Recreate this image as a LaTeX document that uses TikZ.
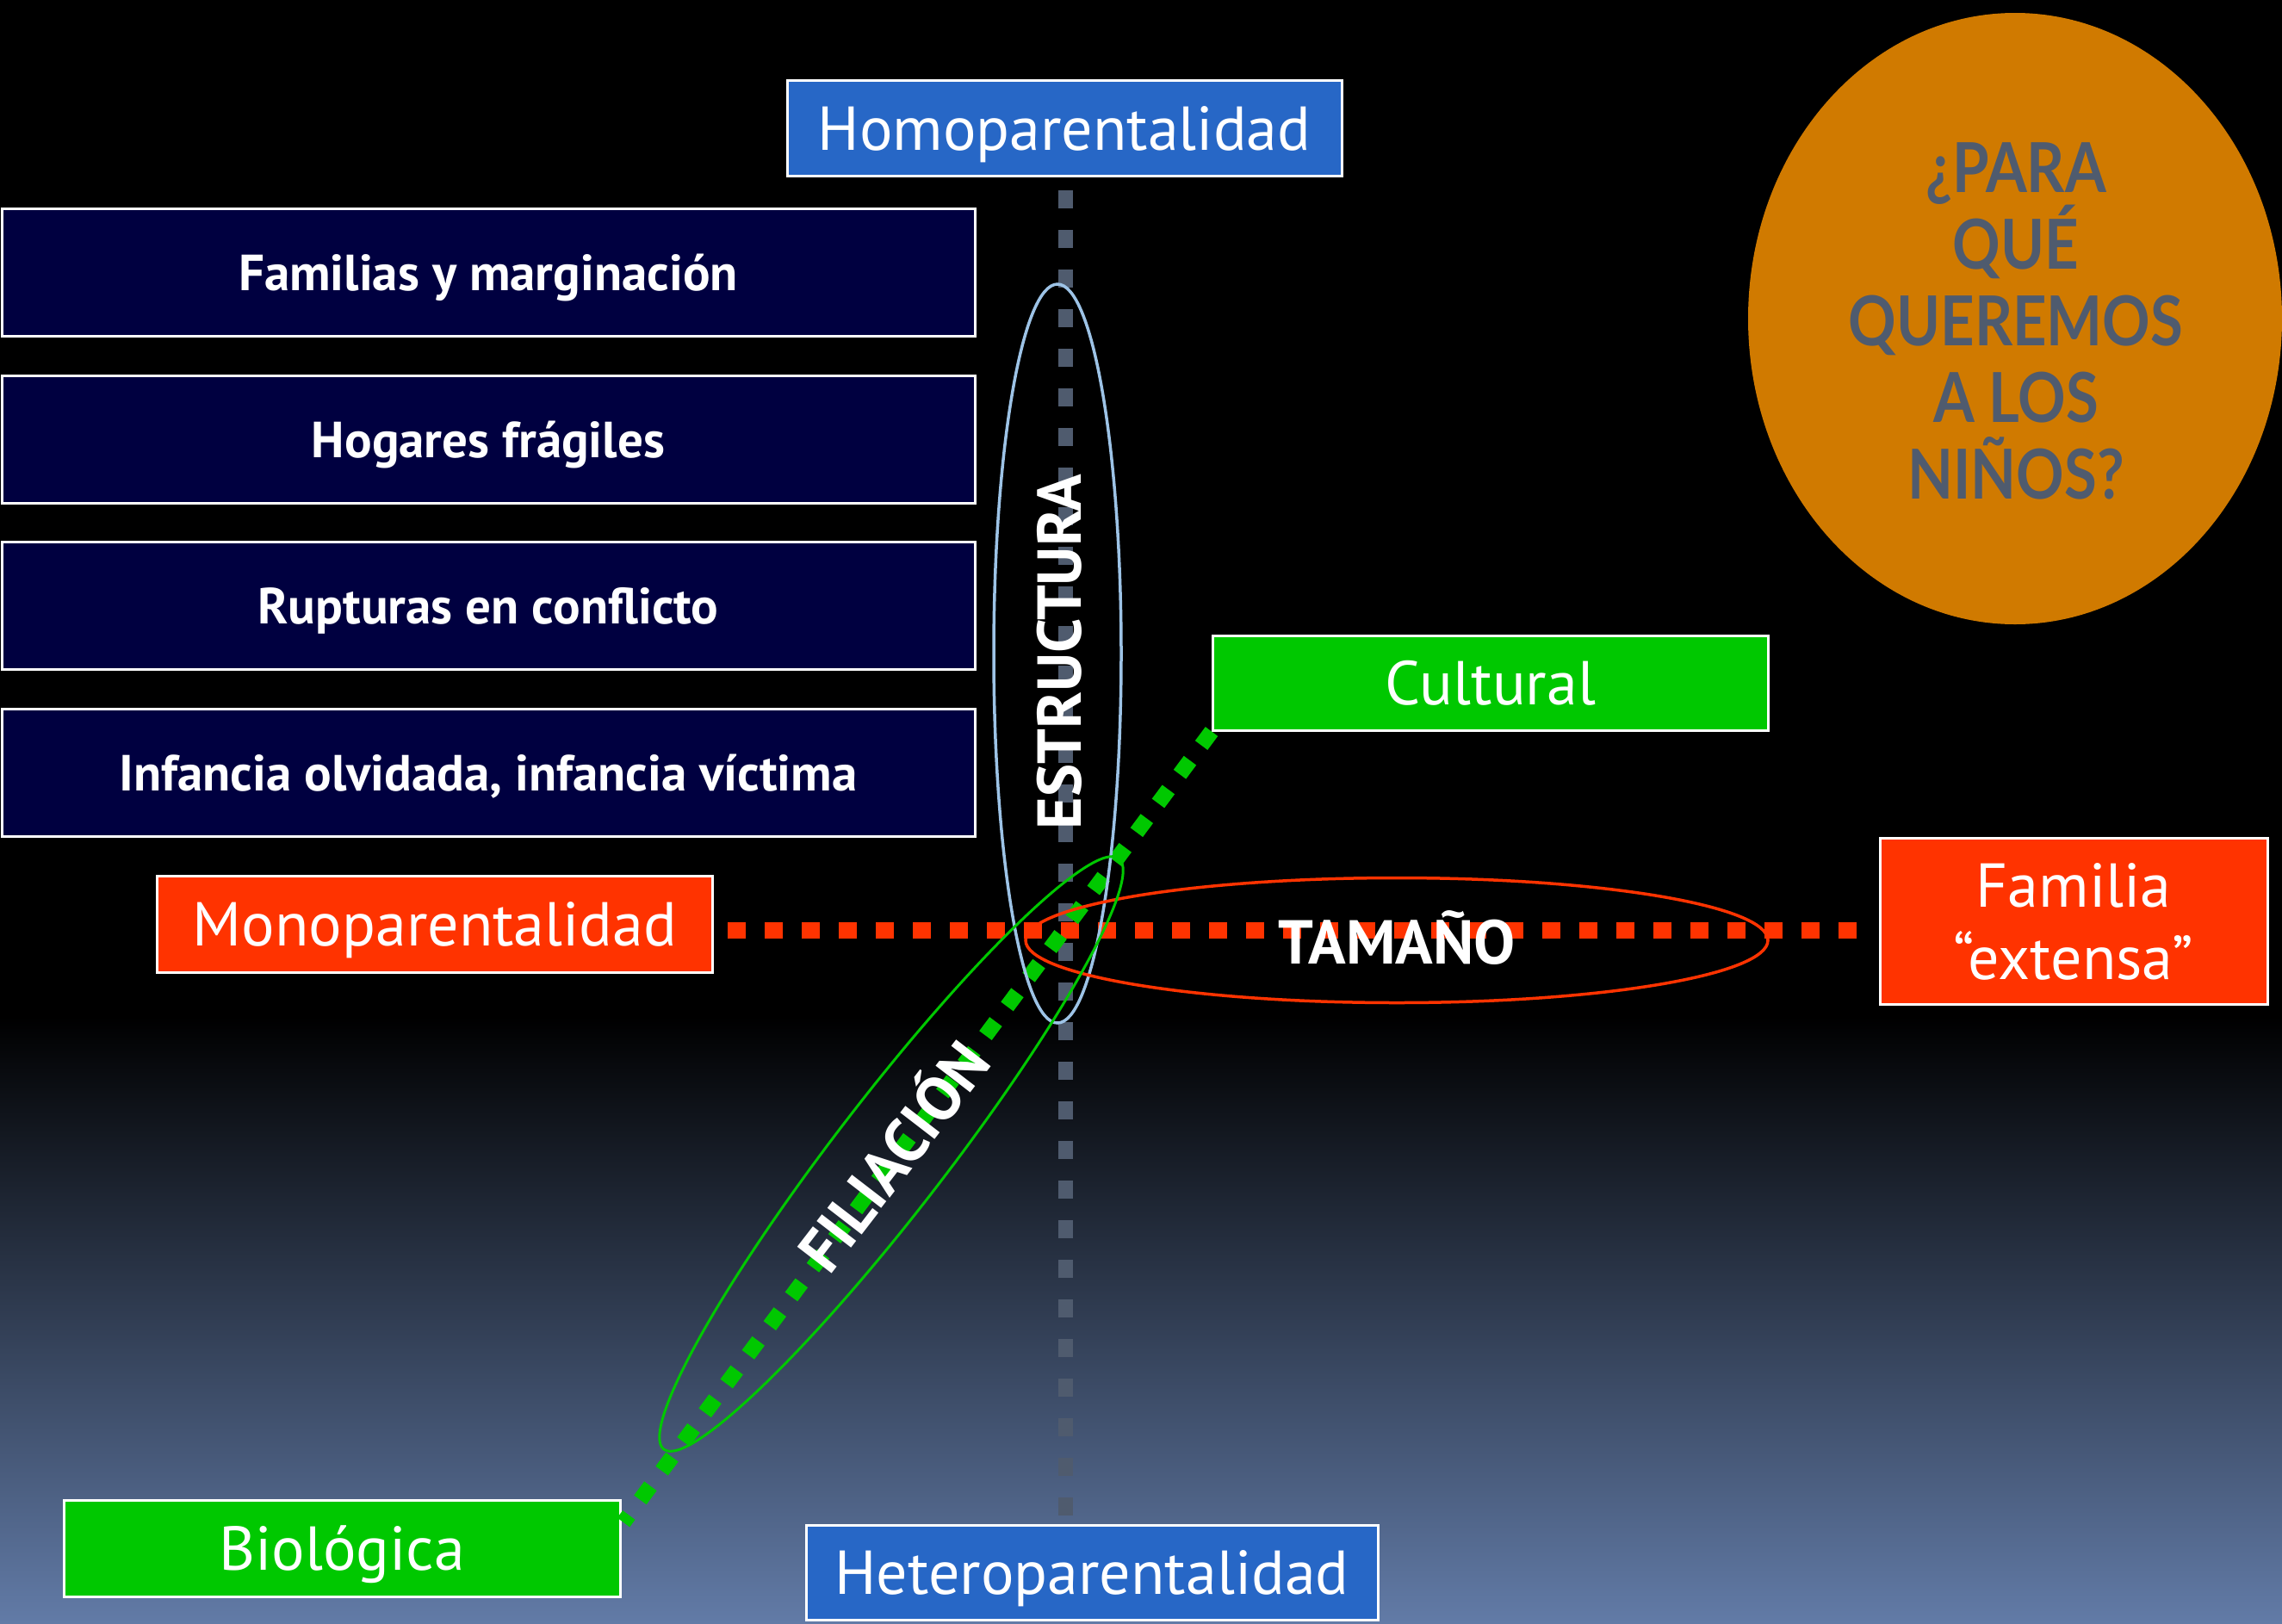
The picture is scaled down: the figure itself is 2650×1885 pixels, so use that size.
\documentclass[tikz,border=0pt]{standalone}
\usepackage{fontspec}
\setmainfont{PT Sans}
\newfontfamily\boxfont{PT Sans}
\newfontfamily\darkfont{PT Sans}
\newfontfamily\qfont[FakeStretch=0.86]{Lato}
\usetikzlibrary{shapes.geometric}
\definecolor{navybox}{HTML}{000040}
\definecolor{bluebox}{HTML}{2767C6}
\definecolor{greenbox}{HTML}{00C800}
\definecolor{redbox}{HTML}{FF3300}
\definecolor{orangec}{HTML}{D07A00}
\definecolor{slate}{HTML}{4F5B6E}
\definecolor{lightblue}{HTML}{9DC3E6}
\definecolor{bottomblue}{HTML}{627BA7}
\begin{document}
\begin{tikzpicture}[x=1pt,y=-1pt,
  box/.style={draw=white,line width=3pt,inner sep=0pt,text=white,align=center,text depth=0pt},
  colbox/.style={box,font=\boxfont\fontsize{72}{80}\selectfont},
  darkbox/.style={box,fill=navybox,minimum width=1130pt,minimum height=148pt,font=\darkfont\bfseries\fontsize{59}{66}\selectfont},
  ring/.style={ellipse,draw,line width=3.5pt,inner sep=0pt},
  lbl/.style={text=white,inner sep=0pt,font=\boxfont\bfseries\fontsize{72}{80}\selectfont},
  graydash/.style={draw=slate,line width=17pt,dash pattern=on 21pt off 25pt},
  reddash/.style={draw=redbox,line width=19pt,dash pattern=on 21pt off 22pt},
  greendash/.style={draw=greenbox,line width=18pt,dash pattern=on 20pt off 22pt}]
\useasboundingbox (0,0) rectangle (2650,1885);
\fill[black] (0,0) rectangle (2650,1885);
\shade[top color=black,bottom color=bottomblue] (0,1180) rectangle (2650,1885);

% boxes
\node[colbox,fill=bluebox,minimum width=644pt,minimum height=111pt] (homo) at (1236,149) {Homoparentalidad};
\node[colbox,fill=bluebox,minimum width=664pt,minimum height=110pt] (hetero) at (1268,1826) {Heteroparentalidad};
\node[colbox,fill=greenbox,minimum width=645pt,minimum height=110pt] (cultural) at (1731,793) {Cultural};
\node[colbox,fill=greenbox,minimum width=646pt,minimum height=112pt] (biol) at (397,1798) {Biológica};
\node[colbox,fill=redbox,minimum width=645pt,minimum height=112pt] (mono) at (505,1073) {Monoparentalidad};
\node[colbox,fill=redbox,minimum width=450pt,minimum height=193pt,font=\boxfont\fontsize{72}{84}\selectfont] (extensa) at (2408,1070) {Familia\\“extensa”};

\node[darkbox] (f1) at (567,316) {Familias y marginación};
\node[darkbox] (f2) at (567,510) {Hogares frágiles};
\node[darkbox] (f3) at (567,703) {Rupturas en conflicto};
\node[darkbox] (f4) at (567,897) {Infancia olvidada, infancia víctima};

% question
\node[ellipse,fill=orangec,minimum width=620pt,minimum height=710pt,inner sep=0pt] (q) at (2340,370) {};
\node[text=slate,align=center,inner sep=0pt,font=\qfont\bfseries\fontsize{80}{89}\selectfont] (qtext) at (2341,373) {¿PARA\\QUÉ\\QUEREMOS\\A LOS\\NIÑOS?};

% axes
\coordinate (cross) at (1237,1080);
\coordinate (gtop) at (1237,221);
\coordinate (gbot) at (1237,1766);
\coordinate (rleft) at (845,1080);
\coordinate (rright) at (2163,1080);
\coordinate (gend) at (724,1768);
\draw[graydash] (gtop) -- (gbot);
\draw[reddash] (rleft) -- (rright);
\draw[greendash] (cultural.south west) -- (gend);

% rings
\node[ring,draw=lightblue,minimum width=148pt,minimum height=858pt] (estrring) at (1228,759) {};
\node[ring,draw=redbox,minimum width=862pt,minimum height=145pt] (sizering) at (1622,1092) {};
\node[ring,draw=greenbox,line width=3pt,minimum width=866pt,minimum height=130pt,rotate=52.4] (filring) at (1035,1340) {};

% labels
\node[lbl,rotate=90] (estr) at (1230,757) {ESTRUCTURA};
\node[lbl] (size) at (1622,1089) {TAMAÑO};
\node[lbl,rotate=52.4] (fil) at (1034,1340) {FILIACIÓN};
\end{tikzpicture}
\end{document}
